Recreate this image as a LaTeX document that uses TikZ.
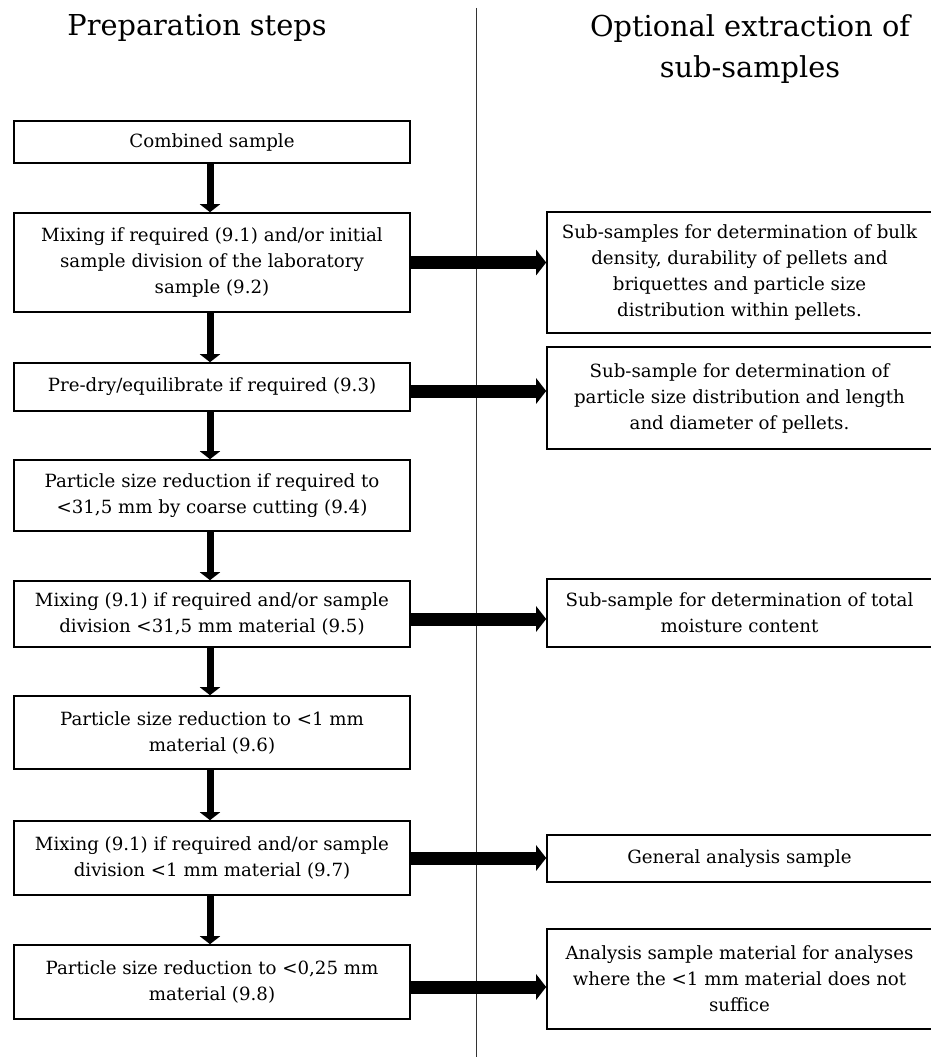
\documentclass[tikz,border=0pt]{standalone}
\usepackage{fontspec}
\setmainfont{DejaVu Serif}
\usetikzlibrary{arrows.meta}
\begin{document}
\begin{tikzpicture}[x=1pt,y=-1pt,
  box/.style={draw=black,line width=1.6pt,rectangle,inner sep=0pt,align=center,
    font=\fontsize{18.2}{26}\selectfont},
  lbox/.style={box,minimum width=396pt},
  rbox/.style={box,minimum width=385pt},
  downarrow/.style={line width=7pt,-{Triangle[length=8pt,width=20pt]}},
  sidearrow/.style={line width=13pt,-{Triangle[length=10pt,width=25pt]}},
  title/.style={font=\fontsize{28.8}{41}\selectfont,align=center}]
\useasboundingbox (0,0) rectangle (930,1057);
\fill[white] (0,0) rectangle (930,1057);
% divider
\coordinate (dtop) at (476,8);
\coordinate (dbot) at (476,1057);
\draw[line width=1pt,black!80] (dtop) -- (dbot);
% titles
\node[title] (t1) at (197,28) {Preparation steps};
\node[title] (t2) at (750,49) {Optional extraction of\\sub-samples};
% left boxes
\node[lbox,minimum height=42pt] (b1) at (212,142) {Combined sample};
\node[lbox,minimum height=99pt] (b2) at (212,262.5) {Mixing if required (9.1) and/or initial\\sample division of the laboratory\\sample (9.2)};
\node[lbox,minimum height=48pt] (b3) at (212,387) {Pre-dry/equilibrate if required (9.3)};
\node[lbox,minimum height=71pt] (b4) at (212,495.5) {Particle size reduction if required to\\<31,5 mm by coarse cutting (9.4)};
\node[lbox,minimum height=66pt] (b5) at (212,614) {Mixing (9.1) if required and/or sample\\division <31,5 mm material (9.5)};
\node[lbox,minimum height=73pt] (b6) at (212,732.5) {Particle size reduction to <1 mm\\material (9.6)};
\node[lbox,minimum height=74pt] (b7) at (212,858) {Mixing (9.1) if required and/or sample\\division <1 mm material (9.7)};
\node[lbox,minimum height=74pt] (b8) at (212,982) {Particle size reduction to <0,25 mm\\material (9.8)};
% right boxes
\node[rbox,minimum height=121pt] (r1) at (739.5,272.5) {Sub-samples for determination of bulk\\density, durability of pellets and\\briquettes and particle size\\distribution within pellets.};
\node[rbox,minimum height=102pt] (r2) at (739.5,398) {Sub-sample for determination of\\particle size distribution and length\\and diameter of pellets.};
\node[rbox,minimum height=68pt] (r3) at (739.5,613) {Sub-sample for determination of total\\moisture content};
\node[rbox,minimum height=47pt] (r4) at (739.5,858.5) {General analysis sample};
\node[rbox,minimum height=100pt] (r5) at (739.5,979) {Analysis sample material for analyses\\where the <1 mm material does not\\suffice};
% vertical arrows
\foreach \a/\b in {b1/b2,b2/b3,b3/b4,b4/b5,b5/b6,b6/b7,b7/b8}
  \draw[downarrow] ([xshift=-2pt]\a.south) -- ([xshift=-2pt]\b.north);
% side arrows
\draw[sidearrow] (b2.east) -- (b2.east -| r1.west);
\draw[sidearrow] ([yshift=-4pt]b3.east) -- ([yshift=-4pt]b3.east -| r2.west);
\draw[sidearrow] ([yshift=-5pt]b5.east) -- ([yshift=-5pt]b5.east -| r3.west);
\draw[sidearrow] (b7.east) -- (b7.east -| r4.west);
\draw[sidearrow] ([yshift=-5pt]b8.east) -- ([yshift=-5pt]b8.east -| r5.west);
\end{tikzpicture}
\end{document}
